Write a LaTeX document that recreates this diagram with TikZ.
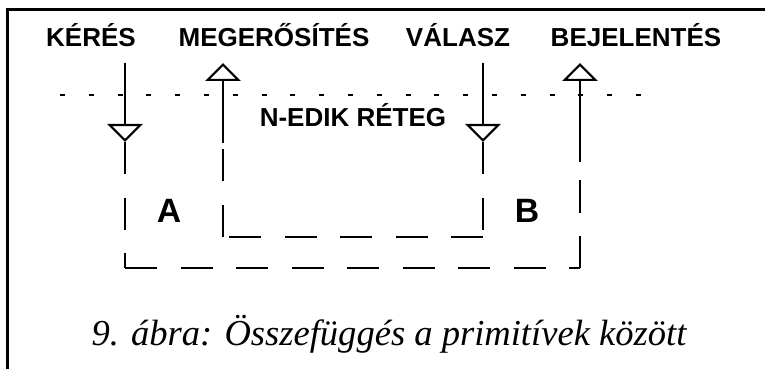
\documentclass[tikz,border=0pt]{standalone}
\usepackage{fontspec}
\setmainfont{Liberation Serif}
\setsansfont{Liberation Sans}
\usetikzlibrary{arrows.meta}

\begin{document}
\begin{tikzpicture}[
    x=0.25mm, y=-0.25mm,
    prim/.style={font=\sffamily\bfseries\fontsize{18.5}{20}\selectfont,
      anchor=base, inner sep=0pt},
    side/.style={font=\sffamily\bfseries\fontsize{24}{26}\selectfont,
      anchor=base, inner sep=0pt},
    signal/.style={-{Triangle[open, width=8.8mm, length=4.5mm]},
      line width=0.55mm},
    link/.style={line width=0.5mm, dash pattern=on 8mm off 5.875mm},
    layer/.style={line width=0.4mm, dash pattern=on 1.25mm off 5.95mm},
  ]
  \useasboundingbox (0,0) rectangle (765,368);
  \draw[line width=0.75mm] (7,380) |- (780,10);

  \node[prim] (keres) at (91,47)  {KÉRÉS};
  \node[prim] (megerosites) at (274,47) {MEGERŐSÍTÉS};
  \node[prim] (valasz) at (458,47) {VÁLASZ};
  \node[prim] (bejelentes) at (636,47) {BEJELENTÉS};

  \draw[layer] (60,95) -- (645,95);
  \node[prim] (reteg) at (353,127) {N-EDIK RÉTEG};

  \coordinate (k1) at (125,63);  \coordinate (k2) at (125,142);
  \coordinate (m1) at (223,143); \coordinate (m2) at (223,63);
  \coordinate (v1) at (483,63);  \coordinate (v2) at (483,142);
  \coordinate (b1) at (580,162); \coordinate (b2) at (580,63);
  \coordinate (ka) at (125,268); \coordinate (bb) at (580,268);
  \coordinate (mc) at (223,237); \coordinate (vc) at (483,237);

  \draw[signal] (k1) -- (k2);
  \draw[signal] (m1) -- (m2);
  \draw[signal] (v1) -- (v2);
  \draw[signal] (b1) -- (b2);

  \draw[link] (k2) -- (ka);
  \draw[link] (ka) -- (bb);
  \draw[link] (bb) -- (b1);
  \draw[link] (v2) -- (vc);
  \draw[link] (vc) -- (mc);
  \draw[link] (mc) -- (m1);

  \node[side] (a) at (169,222) {A};
  \node[side] (b) at (527,222) {B};

  \node[font=\itshape\fontsize{26}{28}\selectfont, anchor=base, inner sep=0pt]
    (caption) at (389,345) {9. ábra: Összefüggés a primitívek között};
\end{tikzpicture}
\end{document}
